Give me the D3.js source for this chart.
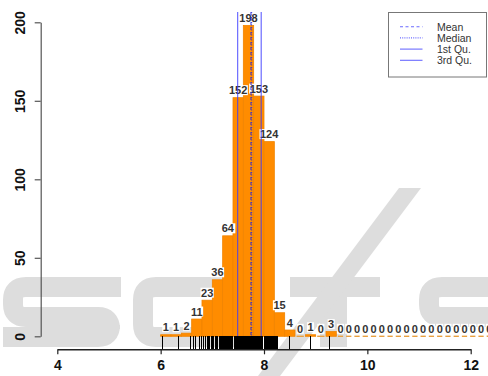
<!DOCTYPE html>
<html>
<head>
<meta charset="utf-8">
<script src="https://cdn.jsdelivr.net/npm/d3@7"></script>
<style>
  html, body { margin: 0; padding: 0; background: #fff; }
  svg { display: block; }
</style>
</head>
<body>
<div id="chart"></div>
<script>
// ─── Data ─────────────────────────────────────────────────────────────────────
const breaks = [
  6.0, 6.2, 6.4, 6.6, 6.8, 7.0, 7.2, 7.4, 7.6, 7.8, 8.0, 8.2, 8.4, 8.6, 8.8, 9.0, 9.2, 9.4,
  9.56, 9.72, 9.88, 10.04, 10.2, 10.36, 10.52, 10.68, 10.84, 11.0,
  11.16, 11.32, 11.48, 11.64, 11.8, 11.96, 12.12, 12.28, 12.44
]
const counts = [
  1, 1, 2, 11, 23, 36, 64, 152, 198, 153, 124, 15, 4, 0, 1, 0, 3,
  0, 0, 0, 0, 0, 0, 0, 0, 0, 0, 0, 0, 0, 0, 0, 0, 0, 0, 0
]
const rugValues = [
  6.03, 6.34, 6.57, 6.63, 6.68, 6.75, 6.79, 6.83, 6.87, 6.9, 6.93, 6.95, 6.98,
  7.01, 7.03, 7.06, 7.08, 7.1, 7.13, 7.15, 7.17, 7.2, 7.22, 7.24, 7.26, 7.28,
  7.3, 7.32, 7.34, 7.36, 7.38, 7.4, 7.42, 7.44, 7.46, 7.48, 7.5, 7.52, 7.54,
  7.56, 7.58, 7.6, 7.62, 7.64, 7.66, 7.68, 7.7, 7.72, 7.74, 7.76, 7.78, 7.8,
  7.82, 7.84, 7.86, 7.88, 7.9, 7.92, 7.94, 7.96, 7.98, 8.0, 8.02, 8.04, 8.06,
  8.08, 8.1, 8.12, 8.14, 8.16, 8.18, 8.2, 8.22, 8.24, 8.26, 8.5, 8.9, 9.26
]
const xTicks = [4, 6, 8, 10, 12]
const yTicks = [0, 50, 100, 150, 200]
const statNames = ['Mean', 'Median', '1st Qu.', '3rd Qu.']
const statValues = [7.747, 7.76, 7.49, 7.946]

// ─── Setup ────────────────────────────────────────────────────────────────────
const W = 488, H = 376
const FONT = 'Liberation Sans, Arial, Helvetica, sans-serif'

const svg = d3.select('#chart').append('svg')
  .attr('width', W).attr('height', H)
  .attr('viewBox', `0 0 ${W} ${H}`)

const x = d3.scaleLinear().domain([4, 12]).range([57.3, 470.7])
const y = d3.scaleLinear().domain([0, 200]).range([336.3, 22.3])

// ── Watermark (faint blocky logo letters behind the plot) ────────────────────
const wm = svg.append('g')
const WM = '#dddddd'
const wmStroke = d => wm.append('path').attr('d', d)
  .attr('fill', 'none').attr('stroke', WM).attr('stroke-width', 20)
// S
wmStroke('M121,287 L26,287 Q13,287 13,300 L13,304 Q13,317 26,317 L98,317 Q110,317 110,329 L110,325 Q110,337 98,337 L3,337')
// C
wmStroke('M238,287 L156,287 Q143,287 143,300 L143,324 Q143,337 156,337 L238,337')
// T
wm.append('rect').attr('x', 290).attr('y', 277).attr('width', 90).attr('height', 20).attr('fill', WM)
wm.append('rect').attr('x', 320).attr('y', 277).attr('width', 27).attr('height', 70).attr('fill', WM)
// slash
wm.append('path').attr('d', 'M258,376 L280,376 L421,188 L399,188 Z').attr('fill', WM)
// right letter (cut by the edge)
wmStroke('M500,287 L442,287 Q429,287 429,300 L429,304 Q429,317 442,317 L500,317')

// ── Bars ──────────────────────────────────────────────────────────────────────
const bins = counts.map((c, i) => ({ x0: breaks[i], x1: breaks[i + 1], n: c }))

const barG = svg.append('g')
barG.selectAll('rect')
  .data(bins.filter(d => d.n > 0))
  .join('rect')
  .attr('x', d => x(d.x0))
  .attr('y', d => y(d.n))
  .attr('width', d => x(d.x1) - x(d.x0))
  .attr('height', d => y(0) - y(d.n))
  .attr('fill', '#ff8c00')
  .attr('stroke', '#f08400')
  .attr('stroke-width', 0.8)

// zero-count bins: short orange dashes on the baseline
barG.selectAll('line')
  .data(bins.filter(d => d.n === 0))
  .join('line')
  .attr('x1', d => x(d.x0) + 1.5)
  .attr('x2', d => x(d.x1) - 1.5)
  .attr('y1', y(0)).attr('y2', y(0))
  .attr('stroke', '#e8a040')
  .attr('stroke-width', 1.4)

// ── Count labels ──────────────────────────────────────────────────────────────
const lblG = svg.append('g')
  .attr('font-family', FONT).attr('font-weight', 'bold')
  .attr('font-size', 11).attr('fill', '#333')

bins.forEach(d => {
  const cx = x((d.x0 + d.x1) / 2)
  const by = y(d.n) - 3.5
  const t = lblG.append('text').text(d.n)
    .attr('x', cx).attr('y', by)
    .attr('text-anchor', 'middle')
  const bb = t.node().getBBox()
  lblG.insert('rect', () => t.node())
    .attr('x', bb.x - 0.5).attr('y', bb.y + 1)
    .attr('width', bb.width + 1).attr('height', bb.height - 2)
    .attr('fill', '#fff')
})

// ── Summary lines ─────────────────────────────────────────────────────────────
const dashes = ['3,2', '1,1.5', null, null]
const statG = svg.append('g')
statValues.forEach((v, i) => {
  statG.append('line')
    .attr('x1', x(v)).attr('x2', x(v))
    .attr('y1', 12).attr('y2', y(0))
    .attr('stroke', i < 2 ? '#2a2ad8' : '#3a3aff')
    .attr('stroke-opacity', 0.75)
    .attr('stroke-width', 1.2)
    .attr('stroke-dasharray', dashes[i])
})

// ── Rug ───────────────────────────────────────────────────────────────────────
svg.append('g').selectAll('line')
  .data(rugValues)
  .join('line')
  .attr('x1', d => x(d)).attr('x2', d => x(d))
  .attr('y1', y(0)).attr('y2', 349.3)
  .attr('stroke', '#000')
  .attr('stroke-width', 1)
  .attr('shape-rendering', 'crispEdges')

// ── Axes ──────────────────────────────────────────────────────────────────────
const xAxis = svg.append('g')
  .attr('transform', 'translate(0,349.3)')
  .call(d3.axisBottom(x).tickValues(xTicks).tickSize(5).tickSizeOuter(0).tickFormat(d3.format('d')))
xAxis.select('.domain').attr('stroke', '#222').attr('stroke-width', 1.4)
xAxis.selectAll('.tick line').attr('stroke', '#222').attr('stroke-width', 1.2)
xAxis.selectAll('.tick text')
  .attr('y', 21).attr('dy', 0)
  .attr('font-family', FONT).attr('font-weight', 'bold')
  .attr('font-size', 14).attr('fill', '#111')

const yAxis = svg.append('g')
  .attr('transform', 'translate(40.7,0)')
  .call(d3.axisLeft(y).tickValues(yTicks).tickSize(6).tickSizeOuter(0).tickFormat(d3.format('d')))
yAxis.select('.domain').attr('stroke', '#555').attr('stroke-width', 1.2)
yAxis.selectAll('.tick line').attr('stroke', '#555').attr('stroke-width', 1.2)
yAxis.selectAll('.tick text')
  .attr('transform', 'rotate(-90)')
  .attr('x', 0).attr('y', -16).attr('dy', 0)
  .attr('text-anchor', 'middle')
  .attr('font-family', FONT).attr('font-weight', 'bold')
  .attr('font-size', 14).attr('fill', '#111')

// ── Legend ────────────────────────────────────────────────────────────────────
const leg = svg.append('g')
leg.append('rect')
  .attr('x', 388.5).attr('y', 12.5)
  .attr('width', 98).attr('height', 64.5)
  .attr('fill', '#fff').attr('stroke', '#777').attr('stroke-width', 1)

const legDash = ['3,2.5', '1,1.2', null, null]
statNames.forEach((name, i) => {
  const ly = 26.7 + i * 11.2
  leg.append('line')
    .attr('x1', 400).attr('x2', 422.5)
    .attr('y1', ly).attr('y2', ly)
    .attr('stroke', '#6b6bff')
    .attr('stroke-width', 1.1)
    .attr('stroke-dasharray', legDash[i])
  leg.append('text').text(name)
    .attr('x', 437).attr('y', ly + 3.8)
    .attr('font-family', FONT).attr('font-size', 10.5)
    .attr('fill', '#333')
})
</script>
</body>
</html>
